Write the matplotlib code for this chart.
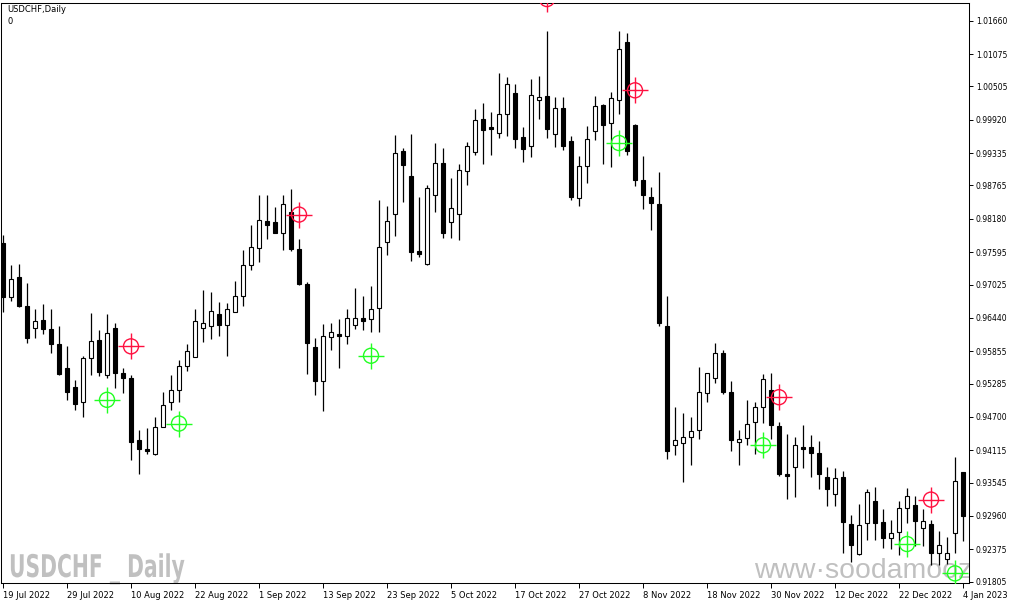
import numpy as np
import matplotlib.pyplot as plt
from matplotlib.patheffects import AbstractPathEffect
from matplotlib.transforms import Affine2D

symbol = "USDCHF"
timeframe = "Daily"

# daily OHLC, 19 Jul 2022 .. 4 Jan 2023
opens = [0.97758, 0.96812, 0.97149, 0.96647, 0.96257, 0.96402, 0.96237, 0.95985, 0.95555, 0.95225,
         0.94960, 0.95727, 0.96058, 0.95430, 0.96257, 0.95476, 0.95377, 0.94299, 0.94140, 0.94041,
         0.94530, 0.94967, 0.95178, 0.95589, 0.95754, 0.96270, 0.96303, 0.96515, 0.96323, 0.96548,
         0.96832, 0.97361, 0.97659, 0.98142, 0.98122, 0.97923, 0.98307, 0.97646, 0.97030, 0.95926,
         0.95324, 0.96104, 0.96151, 0.96124, 0.96323, 0.96435, 0.96415, 0.96614, 0.97778, 0.98267,
         0.99365, 0.98929, 0.97612, 0.97394, 0.98605, 0.99160, 0.98122, 0.98267, 0.99015, 0.99345,
         0.99927, 0.99788, 0.99696, 1.00027, 1.00390, 0.99610, 0.99464, 1.00271, 1.00337, 0.99663,
         1.00126, 0.99544, 0.98552, 0.99101, 0.99729, 1.00172, 0.99855, 1.00271, 1.01283, 0.99835,
         0.98863, 0.98571, 0.98433, 0.96290, 0.94206, 0.94233, 0.94352, 0.94464, 0.95112, 0.95390,
         0.95820, 0.95132, 0.94266, 0.94338, 0.94603, 0.94881, 0.95178, 0.94537, 0.93690, 0.93823,
         0.94166, 0.94166, 0.94074, 0.93637, 0.93340, 0.93637, 0.92811, 0.92288, 0.92830, 0.93214,
         0.92850, 0.92579, 0.92685, 0.93095, 0.93161, 0.92744, 0.92817, 0.92301, 0.92202, 0.92665,
         0.93730]
highs = [0.97890, 0.97361, 0.97394, 0.97050, 0.96600, 0.96680, 0.96587, 0.96303, 0.95939, 0.95344,
         0.95774, 0.96521, 0.96223, 0.96515, 0.96349, 0.95555, 0.95443, 0.94471, 0.94504, 0.94702,
         0.95132, 0.95430, 0.95708, 0.95985, 0.96587, 0.96931, 0.96891, 0.96713, 0.96700, 0.97083,
         0.97639, 0.98069, 0.98605, 0.98598, 0.98386, 0.98605, 0.98704, 0.97824, 0.97077, 0.96091,
         0.96336, 0.96356, 0.96415, 0.96600, 0.96964, 0.96819, 0.96997, 0.98505, 0.98406, 0.99656,
         0.99431, 0.99676, 0.98565, 0.98770, 0.99511, 0.99425, 0.98896, 0.99134, 0.99524, 1.00106,
         1.00218, 1.00053, 1.00748, 1.00668, 1.00556, 0.99788, 1.00635, 1.00688, 1.01482, 1.00318,
         1.00318, 0.99630, 0.99279, 0.99808, 1.00337, 1.00205, 1.00404, 1.01482, 1.01442, 0.99841,
         0.99279, 0.98737, 0.99001, 0.96819, 0.94881, 0.94762, 0.94696, 0.95575, 0.95476, 0.95992,
         0.95873, 0.95324, 0.94464, 0.94993, 0.94967, 0.95456, 0.95476, 0.94603, 0.94398, 0.94352,
         0.94550, 0.94385, 0.94272, 0.93823, 0.93803, 0.93756, 0.92976, 0.93174, 0.93426, 0.93472,
         0.93075, 0.92896, 0.93214, 0.93446, 0.93307, 0.93082, 0.92883, 0.92698, 0.92586, 0.93988,
         0.93737]
lows = [0.96534, 0.96733, 0.96634, 0.95992, 0.96091, 0.96151, 0.95827, 0.95430, 0.95000, 0.94815,
        0.94702, 0.95430, 0.95423, 0.95377, 0.95212, 0.95112, 0.93942, 0.93704, 0.94054, 0.94030,
        0.94520, 0.94828, 0.94967, 0.95509, 0.95745, 0.96018, 0.96071, 0.96124, 0.95774, 0.96534,
        0.96653, 0.97275, 0.97427, 0.97824, 0.97930, 0.97639, 0.97606, 0.97011, 0.95456, 0.95079,
        0.94795, 0.95873, 0.95562, 0.95985, 0.96250, 0.96223, 0.96190, 0.96190, 0.97540, 0.97877,
        0.98472, 0.97440, 0.97513, 0.97374, 0.98307, 0.97844, 0.97844, 0.97804, 0.98770, 0.99299,
        0.99147, 0.99299, 0.99597, 0.99643, 0.99425, 0.99180, 0.99266, 0.99941, 0.99597, 0.99445,
        0.99392, 0.98505, 0.98406, 0.98816, 0.99564, 0.99147, 0.99094, 1.00027, 0.99299, 0.98750,
        0.98353, 0.97989, 0.96303, 0.93968, 0.94034, 0.93558, 0.93856, 0.94319, 0.94967, 0.95298,
        0.95099, 0.94107, 0.93856, 0.94200, 0.94054, 0.94596, 0.94319, 0.93657, 0.93260, 0.93293,
        0.93803, 0.93637, 0.93439, 0.93128, 0.93128, 0.92315, 0.92156, 0.92280, 0.92533, 0.92533,
        0.92400, 0.92387, 0.92268, 0.92830, 0.92434, 0.92434, 0.92103, 0.92103, 0.92123, 0.92301,
        0.92520]
closes = [0.96799, 0.97130, 0.96653, 0.96091, 0.96382, 0.96237, 0.95972, 0.95456, 0.95132, 0.94934,
          0.95727, 0.96025, 0.95496, 0.96171, 0.95463, 0.95377, 0.94266, 0.94140, 0.94100, 0.94530,
          0.94901, 0.95178, 0.95589, 0.95866, 0.96382, 0.96356, 0.96567, 0.96316, 0.96587, 0.96832,
          0.97374, 0.97679, 0.98155, 0.98075, 0.97937, 0.98433, 0.97646, 0.97030, 0.95992, 0.95324,
          0.96118, 0.96184, 0.96124, 0.96435, 0.96435, 0.96389, 0.96600, 0.97679, 0.98135, 0.99332,
          0.99127, 0.97593, 0.97560, 0.98717, 0.99160, 0.97937, 0.98366, 0.99034, 0.99458, 0.99908,
          0.99742, 0.99762, 1.00020, 1.00549, 0.99590, 0.99411, 1.00357, 1.00318, 0.99762, 1.00126,
          0.99464, 0.98565, 0.99114, 0.99577, 1.00159, 0.99828, 1.00304, 1.01164, 0.99378, 0.98869,
          0.98605, 0.98452, 0.96356, 0.94107, 0.94286, 0.94352, 0.94451, 0.95145, 0.95463, 0.95820,
          0.95132, 0.94286, 0.94305, 0.94570, 0.94881, 0.95357, 0.94550, 0.93690, 0.93657, 0.94200,
          0.94140, 0.94074, 0.93690, 0.93439, 0.93624, 0.92850, 0.92447, 0.92797, 0.93373, 0.92844,
          0.92566, 0.92665, 0.93095, 0.93313, 0.92877, 0.92877, 0.92301, 0.92447, 0.92315, 0.93578,
          0.92963]

# signal markers (bar index, price)
buy_bars = [13, 22, 46, 77, 95, 113, 119]
buy_prices = [0.95000, 0.94583, 0.95774, 0.99511, 0.94200, 0.92467, 0.91951]
sell_bars = [16, 37, 68, 79, 97, 116]
sell_prices = [0.95939, 0.98254, 1.02040, 1.00437, 0.95046, 0.93247]

date_labels = ["19 Jul 2022", "29 Jul 2022", "10 Aug 2022", "22 Aug 2022", "1 Sep 2022",
               "13 Sep 2022", "23 Sep 2022", "5 Oct 2022", "17 Oct 2022", "27 Oct 2022",
               "8 Nov 2022", "18 Nov 2022", "30 Nov 2022", "12 Dec 2022", "22 Dec 2022",
               "4 Jan 2023"]
price_ticks = [1.01660, 1.01075, 1.00505, 0.99920, 0.99335, 0.98765, 0.98180, 0.97595, 0.97025,
               0.96440, 0.95855, 0.95285, 0.94700, 0.94115, 0.93545, 0.92960, 0.92375, 0.91805]


class Squeeze(AbstractPathEffect):
    # narrow a text horizontally around its own origin (condensed look)
    def __init__(self, sx):
        super().__init__()
        self.sx = sx

    def draw_path(self, renderer, gc, tpath, affine, rgbFace=None):
        x0 = affine.get_matrix()[0, 2]
        squeeze = Affine2D().translate(-x0, 0).scale(self.sx, 1).translate(x0, 0)
        renderer.draw_path(gc, tpath, affine + squeeze, rgbFace)


W, H = 1015, 605
fig = plt.figure(figsize=(W / 100, H / 100), dpi=100)
ax = fig.add_axes([0.5 / W, 1 - 583 / H, 968.5 / W, 580 / H])

o = np.array(opens)
h = np.array(highs)
l = np.array(lows)
c = np.array(closes)
x = np.arange(len(o))
up = c >= o

# candles
ax.vlines(x, l, h, color="black", linewidth=0.9, zorder=2)
ax.bar(x, np.abs(c - o), bottom=np.minimum(o, c), width=0.52,
       color=np.where(up, "white", "black"), edgecolor="black", linewidth=0.8, zorder=3)

# signal markers
for bars, prices, col in [(buy_bars, buy_prices, "#22ff22"), (sell_bars, sell_prices, "#ff1040")]:
    ax.scatter(bars, prices, s=117, marker="o", facecolors="none", edgecolors=col,
               linewidths=1.0, zorder=4)
    ax.scatter(bars, prices, s=340, marker="+", color=col, linewidths=1.0, zorder=4)

ax.set_xlim(-0.3125, 120.75)
ax.set_ylim(0.91782, 1.01971)

ax.yaxis.tick_right()
ax.set_yticks(price_ticks)
ax.set_yticklabels(["%.5f" % p for p in price_ticks])
ax.set_xticks(np.arange(0, len(o), 8))
ax.set_xticklabels(date_labels, ha="left")
ax.tick_params(axis="y", direction="out", length=3, width=0.7, labelsize=5.5, pad=2)
ax.tick_params(axis="x", direction="out", length=3.5, width=0.7, labelsize=6, pad=2.2)
for sp in ax.spines.values():
    sp.set_linewidth(0.75)
    sp.set_color("black")

# watermarks
ax.text((9 - 0.5) / 968.5, (583 - 577) / 580, symbol + " _ " + timeframe, transform=ax.transAxes,
        fontsize=22.5, fontweight="bold", family="DejaVu Sans", color="#c0c0c0",
        va="baseline", ha="left", zorder=1, path_effects=[Squeeze(0.65)])
ax.text((754 - 0.5) / 968.5, (583 - 578) / 580, "www\u00b7soodamooz", transform=ax.transAxes,
        fontsize=20.4, family=["Liberation Sans", "DejaVu Sans"], color="#c0c0c0",
        va="baseline", ha="left", zorder=1, clip_on=True)

fig.text(7 / W, 1 - 9.5 / H, symbol + "," + timeframe, fontsize=6, va="center", ha="left")
fig.text(7 / W, 1 - 21 / H, "0", fontsize=6, va="center", ha="left")

fig.savefig("out.png", dpi=100)
